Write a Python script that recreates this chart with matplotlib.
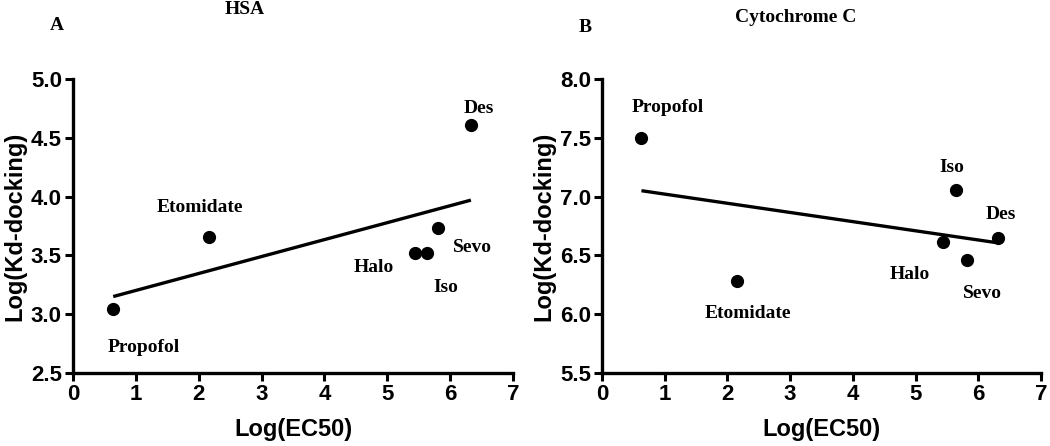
import matplotlib
matplotlib.use("Agg")
import matplotlib.pyplot as plt

# Panel A: HSA
drugs = ["Propofol", "Etomidate", "Halo", "Iso", "Sevo", "Des"]
hsa_ec50 = [0.64, 2.16, 5.44, 5.63, 5.80, 6.33]
hsa_kd = [3.04, 3.66, 3.52, 3.52, 3.73, 4.61]
hsa_fit_x = [0.64, 6.33]
hsa_fit_y = [3.15, 3.97]
hsa_label_xy = [(1.12, 2.72), (2.02, 3.91), (4.79, 3.40), (5.93, 3.23), (6.36, 3.57), (6.45, 4.75)]

# Panel B: Cytochrome C
cyt_ec50 = [0.63, 2.16, 5.44, 5.65, 5.82, 6.32]
cyt_kd = [7.50, 6.28, 6.61, 7.06, 6.46, 6.65]
cyt_fit_x = [0.63, 6.27]
cyt_fit_y = [7.05, 6.61]
cyt_label_xy = [(1.05, 7.76), (2.33, 6.01), (4.91, 6.34), (5.58, 7.25), (6.06, 6.18), (6.36, 6.85)]

x_ticks = [0, 1, 2, 3, 4, 5, 6, 7]
hsa_yticks = [2.5, 3.0, 3.5, 4.0, 4.5, 5.0]
cyt_yticks = [5.5, 6.0, 6.5, 7.0, 7.5, 8.0]

sans = "Liberation Sans"
serif = "Liberation Serif"

fig = plt.figure(figsize=(10.5, 4.46), dpi=100)
ax_a = fig.add_axes([0.0695, 0.1637, 0.4191, 0.6592])
ax_b = fig.add_axes([0.5733, 0.1637, 0.4181, 0.6592])


def draw_panel(ax, xs, ys, fit_x, fit_y, label_xy, yticks):
    ax.plot(fit_x, fit_y, color="black", lw=2.4, solid_capstyle="butt", zorder=2)
    ax.plot(xs, ys, "o", color="black", ms=8.5, zorder=3)
    for name, (lx, ly) in zip(drugs, label_xy):
        ax.text(lx, ly, name, family=serif, fontweight="bold", fontsize=14,
                ha="center", va="center")
    ax.set_xlim(0, 7)
    ax.set_ylim(yticks[0], yticks[-1])
    ax.set_xticks(x_ticks)
    ax.set_yticks(yticks)
    ax.set_xticklabels([str(t) for t in x_ticks])
    ax.set_yticklabels([f"{t:.1f}" for t in yticks])
    for lab in ax.get_xticklabels() + ax.get_yticklabels():
        lab.set_family(sans)
        lab.set_fontweight("bold")
        lab.set_fontsize(16)
    ax.tick_params(direction="out", length=6, width=2.2, pad=2)
    for side in ["top", "right"]:
        ax.spines[side].set_visible(False)
    for side in ["left", "bottom"]:
        ax.spines[side].set_linewidth(2.4)
    ax.set_xlabel("Log(EC50)", family=sans, fontweight="bold", fontsize=17, labelpad=9)
    ax.set_ylabel("Log(Kd-docking)", family=sans, fontweight="bold", fontsize=17, labelpad=3)


draw_panel(ax_a, hsa_ec50, hsa_kd, hsa_fit_x, hsa_fit_y, hsa_label_xy, hsa_yticks)
draw_panel(ax_b, cyt_ec50, cyt_kd, cyt_fit_x, cyt_fit_y, cyt_label_xy, cyt_yticks)

fig.text(245 / 1050, 1 - 9 / 446, "HSA", family=serif, fontweight="bold", fontsize=14,
         ha="center", va="center")
fig.text(57 / 1050, 1 - 26 / 446, "A", family=serif, fontweight="bold", fontsize=14,
         ha="center", va="center")
fig.text(796 / 1050, 1 - 18 / 446, "Cytochrome C", family=serif, fontweight="bold", fontsize=14,
         ha="center", va="center")
fig.text(585 / 1050, 1 - 27 / 446, "B", family=serif, fontweight="bold", fontsize=14,
         ha="center", va="center")

fig.savefig("out.png", dpi=100, facecolor="white")
